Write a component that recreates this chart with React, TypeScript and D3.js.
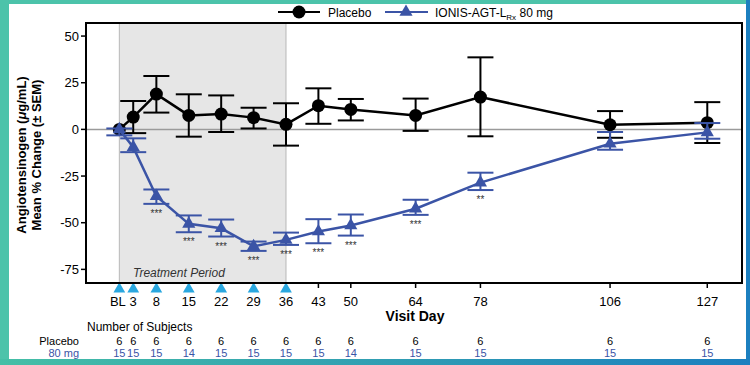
import { useEffect, useRef } from 'react';
import * as d3 from 'd3';

// visit days (BL = day 0)
const days = [0, 3, 8, 15, 22, 29, 36, 43, 50, 64, 78, 106, 127];
const tickLabels = ['BL', '3', '8', '15', '22', '29', '36', '43', '50', '64', '78', '106', '127'];
const doseDays = [0, 3, 8, 15, 22, 29, 36];
const yTicks = [50, 25, 0, -25, -50, -75];

const placeboMean = [0, 6.6, 18.9, 7.5, 8.2, 6.3, 2.7, 12.7, 10.7, 7.5, 17.3, 2.5, 3.6];
const placeboUpper = [0, 15.2, 28.6, 18.8, 18.2, 11.6, 14, 22, 16.3, 16.5, 38.6, 9.8, 14.6];
const placeboLower = [0, -2, 9, -3.9, -1.4, 0.5, -8.7, 3, 4.8, -0.8, -3.7, -4.5, -7.3];

const activeMean = [0, -9.5, -35.8, -50.6, -53, -62.6, -59.2, -54.7, -51.5, -42.5, -28.5, -7.7, -1.6];
const activeUpper = [0.5, -4.8, -32.2, -46.1, -48.3, -60.1, -55.3, -48.1, -45.6, -37.7, -23.2, -1.4, 3.4];
const activeLower = [-3.2, -12.2, -39.9, -55.1, -57.4, -65.1, -61.9, -61, -56.9, -45.8, -32.5, -10.9, -5];
const significance = ['', '', '***', '***', '***', '***', '***', '***', '***', '***', '**', '', ''];

const placeboN = ['6', '6', '6', '6', '6', '6', '6', '6', '6', '6', '6', '6', '6'];
const activeN = ['15', '15', '15', '14', '15', '15', '15', '15', '14', '15', '15', '15', '15'];

const FONT = '"Liberation Sans", Arial, sans-serif';
const BLUE = '#3b54a6';
const DOSE_BLUE = '#2aa7df';

export default function App() {
    const svgRef = useRef<SVGSVGElement>(null);

    useEffect(() => {
        const width = 750;
        const height = 365;
        const svg = d3.select(svgRef.current);
        svg.selectAll('*').remove();
        svg.attr('width', width).attr('height', height).style('font-family', FONT);

        // frame
        const defs = svg.append('defs');
        const grad = defs.append('linearGradient').attr('id', 'frameGrad').attr('x1', '0%').attr('x2', '100%');
        grad.append('stop').attr('offset', '0%').attr('stop-color', '#45bfa6');
        grad.append('stop').attr('offset', '100%').attr('stop-color', '#1c7fbf');
        svg.append('rect').attr('width', width).attr('height', height).attr('fill', '#fff');
        svg.append('rect').attr('width', width).attr('height', 4).attr('fill', '#4cc3aa');
        svg.append('rect').attr('width', 9).attr('height', height).attr('fill', '#4cc3aa');
        svg.append('rect').attr('x', 746).attr('width', 4).attr('height', height).attr('fill', '#1c7fbf');
        svg.append('rect').attr('y', 359).attr('width', width).attr('height', 6).attr('fill', 'url(#frameGrad)');

        const left = 86;
        const right = 742;
        const top = 23;
        const bottom = 283;

        const x = d3.scaleLinear().domain([-7.2, 134.5]).range([left, right]);
        const y = d3.scaleLinear().domain([-82.3, 57]).range([bottom, top]);

        // treatment period shading
        svg.append('rect')
            .attr('x', x(0))
            .attr('y', top)
            .attr('width', x(36) - x(0))
            .attr('height', bottom - top)
            .attr('fill', '#e6e6e6');
        [0, 36].forEach((d) => {
            svg.append('line')
                .attr('x1', x(d)).attr('x2', x(d))
                .attr('y1', top).attr('y2', bottom)
                .attr('stroke', '#b8b8b8').attr('stroke-width', 1);
        });
        svg.append('text')
            .attr('x', 133)
            .attr('y', 277)
            .style('font-size', '12px')
            .style('font-style', 'italic')
            .attr('fill', '#333')
            .text('Treatment Period');

        // zero line
        svg.append('line')
            .attr('x1', left).attr('x2', right)
            .attr('y1', y(0)).attr('y2', y(0))
            .attr('stroke', '#9a9a9a').attr('stroke-width', 1.5);

        // y axis ticks and labels
        yTicks.forEach((t) => {
            svg.append('line')
                .attr('x1', left - 5).attr('x2', left)
                .attr('y1', y(t)).attr('y2', y(t))
                .attr('stroke', '#000').attr('stroke-width', 1.5);
            svg.append('text')
                .attr('x', left - 7)
                .attr('y', y(t))
                .attr('dy', '0.35em')
                .attr('text-anchor', 'end')
                .style('font-size', '13px')
                .text(t);
        });

        // y axis title
        const yTitle = [
            { text: 'Angiotensinogen (', mu: true, xPos: 26 },
            { text: 'Mean % Change (± SEM)', mu: false, xPos: 41 },
        ];
        yTitle.forEach((l) => {
            const t = svg.append('text')
                .attr('transform', `translate(${l.xPos},${(top + bottom) / 2 + 2}) rotate(-90)`)
                .attr('text-anchor', 'middle')
                .style('font-size', '13px')
                .style('font-weight', 'bold');
            if (l.mu) {
                t.append('tspan').text('Angiotensinogen (');
                t.append('tspan').style('font-style', 'italic').text('μ');
                t.append('tspan').text('g/mL)');
            } else {
                t.text(l.text);
            }
        });

        // x axis ticks, dose markers, labels
        const tri = d3.symbol().type(d3.symbolTriangle).size(60);
        days.forEach((d, i) => {
            if (doseDays.includes(d)) {
                svg.append('path')
                    .attr('d', tri())
                    .attr('transform', `translate(${x(d)},${bottom + 6})`)
                    .attr('fill', DOSE_BLUE);
            } else {
                svg.append('line')
                    .attr('x1', x(d)).attr('x2', x(d))
                    .attr('y1', bottom).attr('y2', bottom + 5)
                    .attr('stroke', '#000').attr('stroke-width', 1.5);
            }
            svg.append('text')
                .attr('x', x(d) + (d === 0 ? -1.5 : 0))
                .attr('y', 306)
                .attr('text-anchor', 'middle')
                .style('font-size', '13px')
                .text(tickLabels[i]);
            svg.append('text')
                .attr('x', x(d))
                .attr('y', 345)
                .attr('text-anchor', 'middle')
                .style('font-size', '11px')
                .text(placeboN[i]);
            svg.append('text')
                .attr('x', x(d))
                .attr('y', 357)
                .attr('text-anchor', 'middle')
                .style('font-size', '11px')
                .attr('fill', BLUE)
                .text(activeN[i]);
        });

        svg.append('text')
            .attr('x', (left + right) / 2 + 1)
            .attr('y', 321)
            .attr('text-anchor', 'middle')
            .style('font-size', '14px')
            .style('font-weight', 'bold')
            .text('Visit Day');

        svg.append('text').attr('x', 87).attr('y', 331).style('font-size', '12px').text('Number of Subjects');
        svg.append('text').attr('x', 79).attr('y', 345).attr('text-anchor', 'end').style('font-size', '11px').text('Placebo');
        svg.append('text').attr('x', 79).attr('y', 357).attr('text-anchor', 'end').style('font-size', '11px').attr('fill', BLUE).text('80 mg');

        const line = d3.line<number>().x((_, i) => x(days[i])).y((v) => y(v));
        const capHalf = 13;

        const drawErrors = (upper: number[], lower: number[], color: string) => {
            days.forEach((d, i) => {
                if (upper[i] === lower[i]) return;
                const g = svg.append('g').attr('stroke', color).attr('stroke-width', 2);
                g.append('line').attr('x1', x(d)).attr('x2', x(d)).attr('y1', y(upper[i])).attr('y2', y(lower[i]));
                g.append('line').attr('x1', x(d) - capHalf).attr('x2', x(d) + capHalf).attr('y1', y(upper[i])).attr('y2', y(upper[i]));
                g.append('line').attr('x1', x(d) - capHalf).attr('x2', x(d) + capHalf).attr('y1', y(lower[i])).attr('y2', y(lower[i]));
            });
        };

        // placebo series
        drawErrors(placeboUpper, placeboLower, '#000');
        svg.append('path')
            .attr('d', line(placeboMean))
            .attr('fill', 'none')
            .attr('stroke', '#000')
            .attr('stroke-width', 2.5);
        svg.selectAll('.pbo')
            .data(placeboMean)
            .enter()
            .append('circle')
            .attr('cx', (_, i) => x(days[i]))
            .attr('cy', (v) => y(v))
            .attr('r', 6.5)
            .attr('fill', '#000');

        // active series
        drawErrors(activeUpper, activeLower, BLUE);
        svg.append('path')
            .attr('d', line(activeMean))
            .attr('fill', 'none')
            .attr('stroke', BLUE)
            .attr('stroke-width', 2.5);
        const marker = d3.symbol().type(d3.symbolTriangle).size(75);
        activeMean.forEach((v, i) => {
            svg.append('path')
                .attr('d', marker())
                .attr('transform', `translate(${x(days[i])},${y(v)})`)
                .attr('fill', BLUE);
            if (significance[i]) {
                svg.append('text')
                    .attr('x', x(days[i]))
                    .attr('y', y(activeLower[i]) + 13)
                    .attr('text-anchor', 'middle')
                    .style('font-size', '10px')
                    .attr('fill', '#333')
                    .text(significance[i]);
            }
        });

        // plot box
        svg.append('rect')
            .attr('x', left)
            .attr('y', top)
            .attr('width', right - left)
            .attr('height', bottom - top)
            .attr('fill', 'none')
            .attr('stroke', '#000')
            .attr('stroke-width', 2);

        // legend
        const legY = 12;
        svg.append('line').attr('x1', 278).attr('x2', 320).attr('y1', legY).attr('y2', legY).attr('stroke', '#000').attr('stroke-width', 2);
        svg.append('circle').attr('cx', 299).attr('cy', legY).attr('r', 6.5).attr('fill', '#000');
        svg.append('text').attr('x', 328).attr('y', legY + 4.5).style('font-size', '12px').text('Placebo');

        svg.append('line').attr('x1', 385).attr('x2', 428).attr('y1', legY).attr('y2', legY).attr('stroke', BLUE).attr('stroke-width', 2);
        svg.append('path').attr('d', marker()).attr('transform', `translate(406,${legY})`).attr('fill', BLUE);
        const legText = svg.append('text').attr('x', 435).attr('y', legY + 4.5).style('font-size', '12px');
        legText.append('tspan').text('IONIS-AGT-L');
        legText.append('tspan').attr('dy', 3).style('font-size', '8px').text('Rx');
        legText.append('tspan').attr('dy', -3).text(' 80 mg');
    }, []);

    return (
        <svg ref={svgRef} style={{ position: 'absolute', left: 0, top: 0, display: 'block' }}></svg>
    );
}
